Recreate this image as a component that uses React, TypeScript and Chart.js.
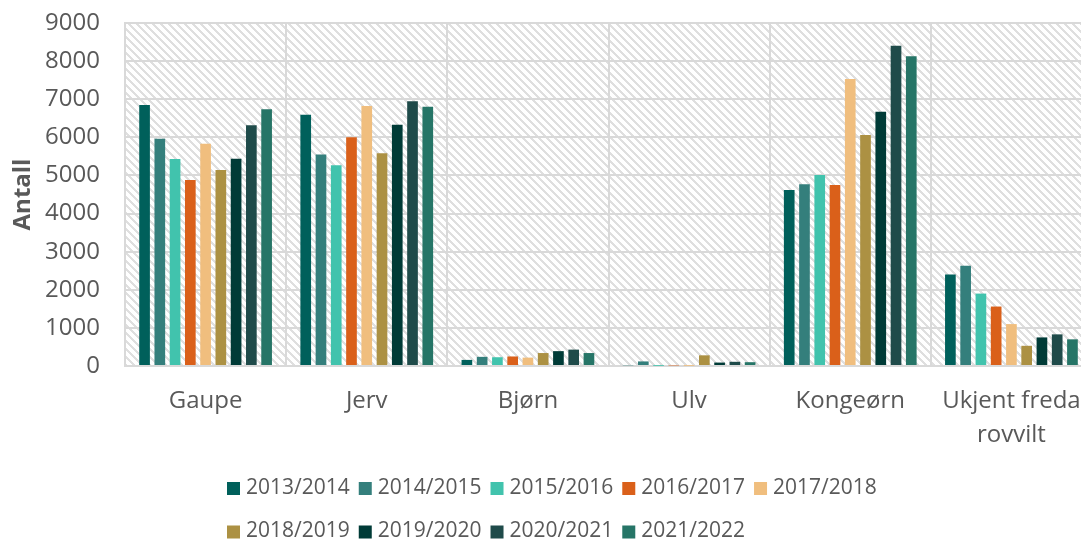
import React, { useEffect, useRef } from "react";
import { Chart, registerables } from "chart.js";

Chart.register(...registerables);

const categories: (string | string[])[] = ["Gaupe", "Jerv", "Bjørn", "Ulv", "Kongeørn", ["Ukjent freda", "rovvilt"]];
const seasons = ["2013/2014", "2014/2015", "2015/2016", "2016/2017", "2017/2018", "2018/2019", "2019/2020", "2020/2021", "2021/2022"];

const s2013 = [6850, 6590, 160, 20, 4620, 2400];
const s2014 = [5960, 5550, 240, 120, 4770, 2630];
const s2015 = [5430, 5270, 230, 5, 5010, 1900];
const s2016 = [4880, 6000, 250, 15, 4750, 1560];
const s2017 = [5830, 6820, 220, 5, 7530, 1100];
const s2018 = [5140, 5580, 340, 280, 6060, 530];
const s2019 = [5440, 6330, 390, 90, 6670, 750];
const s2020 = [6320, 6950, 430, 110, 8400, 830];
const s2021 = [6740, 6800, 340, 100, 8130, 700];
const seriesValues = [s2013, s2014, s2015, s2016, s2017, s2018, s2019, s2020, s2021];

const colors = ["#00605B", "#347F7C", "#41C3AD", "#DA601A", "#F0BE7E", "#AC9143", "#003B37", "#1F4B4A", "#267567"];

const yTicks = [0, 1000, 2000, 3000, 4000, 5000, 6000, 7000, 8000, 9000];

const FONT = "'Open Sans', 'Noto Sans', sans-serif";
const TEXT = "#595959";
const GRID = "#d9d9d9";
const CW = 1100;
const CH = 541;

let hatchTile: HTMLCanvasElement | null = null;
function getHatch(ctx: CanvasRenderingContext2D) {
  if (!hatchTile) {
    hatchTile = document.createElement("canvas");
    hatchTile.width = 8;
    hatchTile.height = 8;
    const t = hatchTile.getContext("2d")!;
    t.fillStyle = "#ffffff";
    t.fillRect(0, 0, 8, 8);
    t.fillStyle = "#dfdfdf";
    for (let y = 0; y < 8; y++) {
      for (let x = 0; x < 8; x++) {
        const d = (((x - y) % 8) + 8) % 8;
        if (d < 3) t.fillRect(x, y, 1, 1);
      }
    }
  }
  return ctx.createPattern(hatchTile, "repeat");
}

const hatchPlugin = {
  id: "hatchBg",
  beforeDraw(chart: any) {
    const { ctx, chartArea: a } = chart;
    const p = getHatch(ctx);
    if (!p) return;
    ctx.save();
    ctx.fillStyle = p;
    ctx.fillRect(a.left, a.top, a.right - a.left, a.bottom - a.top);
    ctx.restore();
  },
};

const legendPlugin = {
  id: "customLegend",
  afterDraw(chart: any) {
    const ctx: CanvasRenderingContext2D = chart.ctx;
    ctx.save();
    ctx.font = `21px ${FONT}`;
    ctx.textBaseline = "middle";
    ctx.textAlign = "left";
    const left = 227;
    const maxW = 680;
    const rowY = [488, 531.5];
    const box = 13;
    let x = left;
    let row = 0;
    chart.data.datasets.forEach((ds: any) => {
      const tw = ctx.measureText(ds.label).width;
      const w = box + 6 + tw;
      if (x > left && x + w - left > maxW) {
        row++;
        x = left;
      }
      const cy = rowY[row] ?? rowY[rowY.length - 1] + 43.5 * (row - 1);
      ctx.fillStyle = ds.backgroundColor;
      ctx.fillRect(x, cy - 6, box, box);
      ctx.fillStyle = TEXT;
      ctx.fillText(ds.label, x + box + 6, cy);
      x += w + 9;
    });
    ctx.restore();
  },
};

export default function App() {
  const ref = useRef<HTMLCanvasElement | null>(null);
  useEffect(() => {
    if (!ref.current) return;
    const chart = new Chart(ref.current, {
      type: "bar",
      data: {
        labels: categories as any,
        datasets: seasons.map((s, i) => ({
          label: s,
          data: seriesValues[i],
          backgroundColor: colors[i],
          borderWidth: 0,
          categoryPercentage: 0.852,
          barPercentage: 0.7,
        })),
      },
      options: {
        responsive: false,
        animation: false,
        devicePixelRatio: 1,
        layout: { padding: { top: 23, right: CW - 1092, bottom: 0, left: 0 } },
        plugins: { legend: { display: false }, tooltip: { enabled: false } },
        scales: {
          x: {
            grid: { color: GRID, lineWidth: 2, drawTicks: false, offset: true },
            border: { color: GRID, width: 2 },
            ticks: {
              color: TEXT,
              font: { family: FONT, size: 24, lineHeight: 1.42 },
              padding: 18,
              autoSkip: false,
              maxRotation: 0,
              minRotation: 0,
            },
            afterFit: (scale: any) => {
              scale.height = CH - 366;
              scale.paddingLeft = 0;
              scale.paddingRight = 0;
            },
          },
          y: {
            min: 0,
            max: 9000,
            afterBuildTicks: (scale: any) => {
              scale.ticks = yTicks.map((v) => ({ value: v }));
            },
            grid: { color: GRID, lineWidth: 2, drawTicks: false },
            border: { color: GRID, width: 2 },
            ticks: {
              color: TEXT,
              font: { family: FONT, size: 24 },
              padding: 25,
              callback: (v: any) => String(v),
            },
            title: {
              display: true,
              text: "Antall",
              color: TEXT,
              font: { family: FONT, size: 24, weight: "bold" },
              padding: { top: 9, bottom: 0 },
            },
            afterFit: (scale: any) => {
              scale.width = 125;
              scale.paddingTop = 0;
              scale.paddingBottom = 0;
            },
          },
        },
      },
      plugins: [hatchPlugin, legendPlugin],
    } as any);
    return () => chart.destroy();
  }, []);

  return (
    <div style={{ position: "fixed", left: 0, top: 0, width: 1081, height: 541, overflow: "hidden", background: "#fff" }}>
      <canvas ref={ref} width={CW} height={CH} style={{ display: "block", width: CW, height: CH }} />
    </div>
  );
}
